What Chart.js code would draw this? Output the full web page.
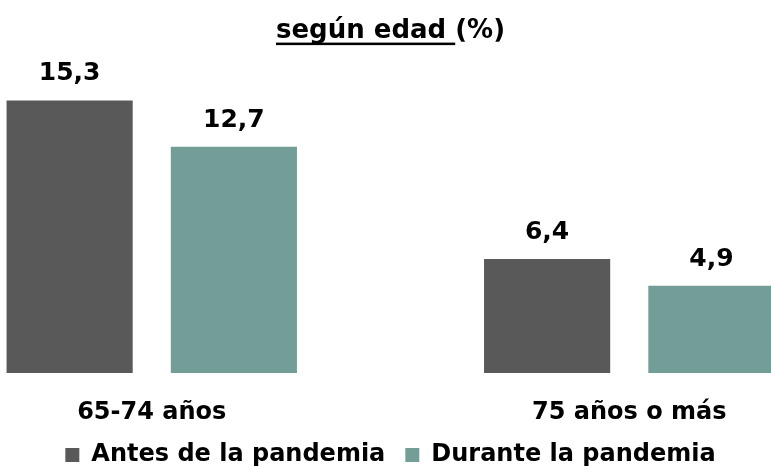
<!DOCTYPE html>
<html lang="es">
<head>
<meta charset="utf-8">
<title>Según edad (%)</title>
<script src="https://cdn.jsdelivr.net/npm/chart.js@4.4.1/dist/chart.umd.min.js"></script>
<style>
  html, body { margin: 0; padding: 0; background: #fff; overflow: hidden; }
  body { width: 771px; height: 469px; position: relative; }
  /* the plot runs wider than the window, so both groups sit off-centre */
  #wrap { position: absolute; left: -87px; top: 0; width: 955px; height: 469px; }
</style>
</head>
<body>
<div id="wrap"><canvas id="grafico"></canvas></div>
<script>
    "use strict";

    // Datos
    var edades = ["65-74 años", "75 años o más"];
    var antes = [15.3, 6.4];
    var durante = [12.7, 4.9];
    var series = ["Antes de la pandemia", "Durante la pandemia"];
    var titulo = "según edad (%)";
    var tituloSubrayado = "según edad ";

    var fuente = "'DejaVu Sans', sans-serif";
    var tamTitulo = 26;

    // Etiquetas con el valor encima de cada barra
    var etiquetasValor = {
        id: "etiquetasValor",
        afterDatasetsDraw: function (chart) {
            var ctx = chart.ctx;
            ctx.save();
            ctx.font = "bold 25px " + fuente;
            ctx.fillStyle = "#000";
            ctx.textAlign = "center";
            ctx.textBaseline = "bottom";
            chart.data.datasets.forEach(function (ds, i) {
                chart.getDatasetMeta(i).data.forEach(function (bar, j) {
                    var txt = ds.data[j].toFixed(1).replace(".", ",");
                    ctx.fillText(txt, bar.x, bar.y - 14);
                });
            });
            ctx.restore();
        }
    };

    // Subrayado de la primera parte del título
    var subrayado = {
        id: "subrayado",
        afterDraw: function (chart) {
            var tb = chart.titleBlock;
            if (!tb) return;
            var ctx = chart.ctx;
            ctx.save();
            ctx.font = "bold " + tamTitulo + "px " + fuente;
            var total = ctx.measureText(titulo).width;
            var parte = ctx.measureText(tituloSubrayado).width;
            var cx = (tb.left + tb.right) / 2;
            var x0 = cx - total / 2;
            var cy = tb.top + tamTitulo * 1.2 / 2;
            ctx.fillStyle = "#000";
            ctx.fillRect(x0, cy + 11, parte, 2.5);
            ctx.restore();
        }
    };

    var ctx1 = document.getElementById("grafico").getContext("2d");
    var grafico = new Chart(ctx1, {
        type: "bar",
        data: {
            labels: edades,
            datasets: [{
                    label: series[0],
                    data: antes,
                    backgroundColor: "#595959"
                },
                {
                    label: series[1],
                    data: durante,
                    backgroundColor: "#739E98"
                }
            ]
        },
        options: {
            responsive: true,
            maintainAspectRatio: false,
            animation: false,
            categoryPercentage: 0.688,
            barPercentage: 0.768,
            layout: {
                padding: { top: 16, bottom: -8, left: 0, right: 0 }
            },
            plugins: {
                title: {
                    display: true,
                    text: titulo,
                    color: "#000",
                    font: { family: fuente, size: tamTitulo, weight: "bold" },
                    padding: { top: 0, bottom: 23 }
                },
                legend: {
                    position: "bottom",
                    labels: {
                        color: "#000",
                        font: { family: fuente, size: 24, weight: "bold" },
                        boxWidth: 14,
                        boxHeight: 14,
                        padding: 20
                    }
                },
                tooltip: { enabled: false }
            },
            scales: {
                x: {
                    grid: { display: false, drawTicks: false },
                    border: { display: false },
                    ticks: {
                        color: "#000",
                        font: { family: fuente, size: 24, weight: "bold" },
                        padding: 25
                    },
                    // alto fijo de la franja de etiquetas del eje
                    afterFit: function (scale) {
                        scale.height = 50;
                    }
                },
                y: {
                    display: false,
                    min: 0,
                    max: 17
                }
            }
        },
        plugins: [etiquetasValor, subrayado]
    });
</script>
</body>
</html>
